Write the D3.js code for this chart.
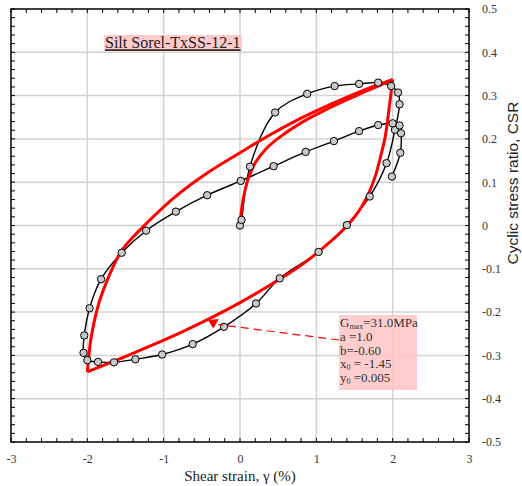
<!DOCTYPE html>
<meta charset="utf-8">
<script src="https://d3js.org/d3.v7.min.js"></script>
<style>
  body { margin: 0; background: #fff; }
  text { font-family: "Liberation Serif", "Times New Roman", serif; }
</style>
<div id="chart"></div>

<script>

// measured loop, test TxSS-12-1 (black line + grey markers)
var measStrain = [0.00, 0.02, 0.13, 0.46, 0.88, 1.24, 1.56, 1.81, 1.98, 2.07, 2.09, 2.03, 1.92, 1.70, 1.40,
                  1.03, 0.52, 0.21, -0.21, -0.62, -1.02, -1.37, -1.65, -1.86, -2.00, -2.05, -2.04, -1.97, -1.82,
                  -1.55, -1.23, -0.84, -0.43, 0.01, 0.44, 0.86, 1.23, 1.56, 1.81, 2.00, 2.09, 2.11, 2.10, 1.99];
var measCSR = [0.000, 0.013, 0.136, 0.261, 0.304, 0.322, 0.327, 0.330, 0.322, 0.307, 0.280, 0.221, 0.144, 0.067, 0.001,
               -0.061, -0.122, -0.180, -0.234, -0.274, -0.298, -0.309, -0.316, -0.315, -0.311, -0.294, -0.254, -0.191, -0.124,
               -0.063, -0.012, 0.032, 0.070, 0.103, 0.137, 0.170, 0.195, 0.218, 0.232, 0.236, 0.231, 0.213, 0.168, 0.113];

// fitted model (red): backbone, unloading branch, reloading branch
var fitLoadStrain = [0.00, 0.02, 0.05, 0.11, 0.20, 0.33, 0.49, 0.80, 1.20, 1.60, 2.00];
var fitLoadCSR    = [0.003, 0.035, 0.068, 0.109, 0.145, 0.175, 0.200, 0.237, 0.274, 0.306, 0.337];

var fitUnloadStrain = [2.00, 1.95, 1.90, 1.84, 1.78, 1.70, 1.60, 1.48, 1.34, 1.18, 1.02, 0.80, 0.40, 0.00,
                       -0.40, -0.80, -1.20, -1.60, -2.00];
var fitUnloadCSR    = [0.337, 0.266, 0.203, 0.158, 0.118, 0.080, 0.045, 0.015, -0.012, -0.038, -0.062, -0.092, -0.137, -0.178,
                       -0.215, -0.249, -0.280, -0.310, -0.338];

var fitReloadStrain = [-2.00, -1.96, -1.91, -1.85, -1.77, -1.70, -1.62, -1.55, -1.45, -1.31, -0.87, -0.43, 0.00,
                       0.35, 0.80, 1.20, 1.60, 2.00];
var fitReloadCSR    = [-0.338, -0.270, -0.222, -0.180, -0.140, -0.110, -0.080, -0.058, -0.036, -0.010, 0.063, 0.121, 0.168,
                       0.205, 0.248, 0.281, 0.311, 0.337];

var xTicks = [-3, -2, -1, 0, 1, 2, 3];
var xTickLabels = ["-3", "-2", "-1", "0", "1", "2", "3"];
var yTicks = [0.5, 0.4, 0.3, 0.2, 0.1, 0, -0.1, -0.2, -0.3, -0.4, -0.5];
var yTickLabels = ["0.5", "0.4", "0.3", "0.2", "0.1", "0", "-0.1", "-0.2", "-0.3", "-0.4", "-0.5"];

var sampleName = "Silt Sorel-TxSS-12-1";
// fit parameters: [symbol, subscript, value text]
var fitParams = [["G", "max", "=31.0MPa"], ["a", "", " =1.0"], ["b", "", "=-0.60"], ["x", "0", " = -1.45"], ["y", "0", " =0.005"]];
// point of the red curve the note box points at
var notePoint = [-0.35, -0.238];

var margin = {top: 9, right: 53, bottom: 44, left: 11},
    width = 522 - margin.left - margin.right,
    height = 486 - margin.top - margin.bottom;

var svg = d3.select("#chart")
  .append("svg")
    .attr("width", 522)
    .attr("height", 486)
  .append("g")
    .attr("transform", "translate(" + margin.left + "," + margin.top + ")");

var x = d3.scaleLinear().domain([-3, 3]).range([0, width]);
var y = d3.scaleLinear().domain([-0.5, 0.5]).range([height, 0]);

// grid
svg.append("g").selectAll("line")
  .data(xTicks.slice(1, -1))
  .enter().append("line")
    .attr("x1", function(d) { return x(d); })
    .attr("x2", function(d) { return x(d); })
    .attr("y1", 0).attr("y2", height)
    .style("stroke", "#d2d2d2").style("stroke-width", 1.5);
svg.append("g").selectAll("line")
  .data(yTicks.slice(1, -1))
  .enter().append("line")
    .attr("y1", function(d) { return y(d); })
    .attr("y2", function(d) { return y(d); })
    .attr("x1", 0).attr("x2", width)
    .style("stroke", "#d2d2d2").style("stroke-width", 1.5);

// minor ticks, inside, on all four sides
var xMinor = x.ticks(30), yMinor = y.ticks(50);
var tk = svg.append("g").style("stroke", "#000").style("stroke-width", 1);
tk.selectAll(".xb").data(xMinor).enter().append("line")
  .attr("x1", function(d) { return x(d); }).attr("x2", function(d) { return x(d); })
  .attr("y1", height).attr("y2", height - 4);
tk.selectAll(".xt").data(xMinor).enter().append("line")
  .attr("x1", function(d) { return x(d); }).attr("x2", function(d) { return x(d); })
  .attr("y1", 0).attr("y2", 4);
tk.selectAll(".yl").data(yMinor).enter().append("line")
  .attr("y1", function(d) { return y(d); }).attr("y2", function(d) { return y(d); })
  .attr("x1", 0).attr("x2", 4);
tk.selectAll(".yr").data(yMinor).enter().append("line")
  .attr("y1", function(d) { return y(d); }).attr("y2", function(d) { return y(d); })
  .attr("x1", width).attr("x2", width - 4);

// tick labels through axes
var xAxis = svg.append("g")
  .attr("transform", "translate(0," + height + ")")
  .call(d3.axisBottom(x).tickValues(xTicks).tickSize(0).tickPadding(12)
    .tickFormat(function(d, i) { return xTickLabels[i]; }));
var yAxis = svg.append("g")
  .attr("transform", "translate(" + width + ",0)")
  .call(d3.axisRight(y).tickValues(yTicks).tickSize(0).tickPadding(13)
    .tickFormat(function(d, i) { return yTickLabels[i]; }));
[xAxis, yAxis].forEach(function(a) {
  a.select(".domain").remove();
  a.selectAll("text").style("font-family", "Liberation Serif").style("font-size", "12px").style("fill", "#333");
});

// measured loop
var measLine = d3.line()
  .x(function(d, i) { return x(measStrain[i]); })
  .y(function(d, i) { return y(measCSR[i]); })
  .curve(d3.curveCatmullRom.alpha(0.5));
svg.append("path")
  .attr("d", measLine(measStrain))
  .style("fill", "none").style("stroke", "#000").style("stroke-width", 1.4);

// fitted model, three branches
function branch(xs, ys) {
  return d3.line()
    .x(function(d, i) { return x(xs[i]); })
    .y(function(d, i) { return y(ys[i]); })
    .curve(d3.curveCatmullRom.alpha(0.5))(xs);
}
[[fitLoadStrain, fitLoadCSR], [fitUnloadStrain, fitUnloadCSR], [fitReloadStrain, fitReloadCSR]].forEach(function(b) {
  svg.append("path")
    .attr("d", branch(b[0], b[1]))
    .style("fill", "none").style("stroke", "#ff0000").style("stroke-width", 3)
    .style("stroke-linejoin", "miter");
});

// markers on top
svg.append("g").selectAll("circle")
  .data(measStrain)
  .enter().append("circle")
    .attr("cx", function(d) { return x(d); })
    .attr("cy", function(d, i) { return y(measCSR[i]); })
    .attr("r", 3.7)
    .style("fill", "#c8c8c8").style("stroke", "#000").style("stroke-width", 1);

// frame
svg.append("rect")
  .attr("width", width).attr("height", height)
  .style("fill", "none").style("stroke", "#000").style("stroke-width", 1.5);

// sample name
svg.append("rect")
  .attr("x", 93).attr("y", 26).attr("width", 138).attr("height", 16)
  .style("fill", "#ffcaca");
svg.append("text")
  .attr("x", 94).attr("y", 39.3)
  .style("font-size", "16px").style("fill", "#222")
  .style("text-decoration", "underline")
  .text(sampleName);

// note box with fit parameters
var nb = svg.append("g").attr("transform", "translate(328,306)");
nb.append("rect")
  .attr("width", 78).attr("height", 75)
  .style("fill", "#ffc4c4").style("opacity", 0.85);
fitParams.forEach(function(p, i) {
  var t = nb.append("text")
    .attr("x", 1).attr("y", 12 + i * 13.8)
    .style("font-size", "13px").style("fill", "#333");
  t.append("tspan").text(p[0]);
  if (p[1]) t.append("tspan").attr("dy", 2).style("font-size", "8px").text(p[1]);
  t.append("tspan").attr("dy", p[1] ? -2 : 0).text(p[2]);
});

// leader from note box to the red curve
var px = x(notePoint[0]), py = y(notePoint[1]);
svg.append("line")
  .attr("x1", 328).attr("y1", 331)
  .attr("x2", px + 5).attr("y2", py - 4)
  .style("stroke", "#ff0000").style("stroke-width", 1.2)
  .style("stroke-dasharray", "8,5");
svg.append("path")
  .attr("d", "M" + px + "," + py + "L" + (px - 5.5) + "," + (py - 8.5) + "L" + (px + 5.5) + "," + (py - 9.5) + "Z")
  .style("fill", "#ff0000");

// axis titles
svg.append("text")
  .attr("x", width / 2).attr("y", height + 39)
  .attr("text-anchor", "middle")
  .style("font-size", "15px").style("fill", "#222")
  .text("Shear strain, \u03b3 (%)");
svg.append("text")
  .attr("transform", "translate(" + (width + 49) + "," + 174 + ")rotate(-90)")
  .attr("text-anchor", "middle")
  .style("font-family", "Liberation Sans, Arial, sans-serif")
  .style("font-size", "15.5px").style("fill", "#222")
  .text("Cyclic stress ratio, CSR");

</script>
